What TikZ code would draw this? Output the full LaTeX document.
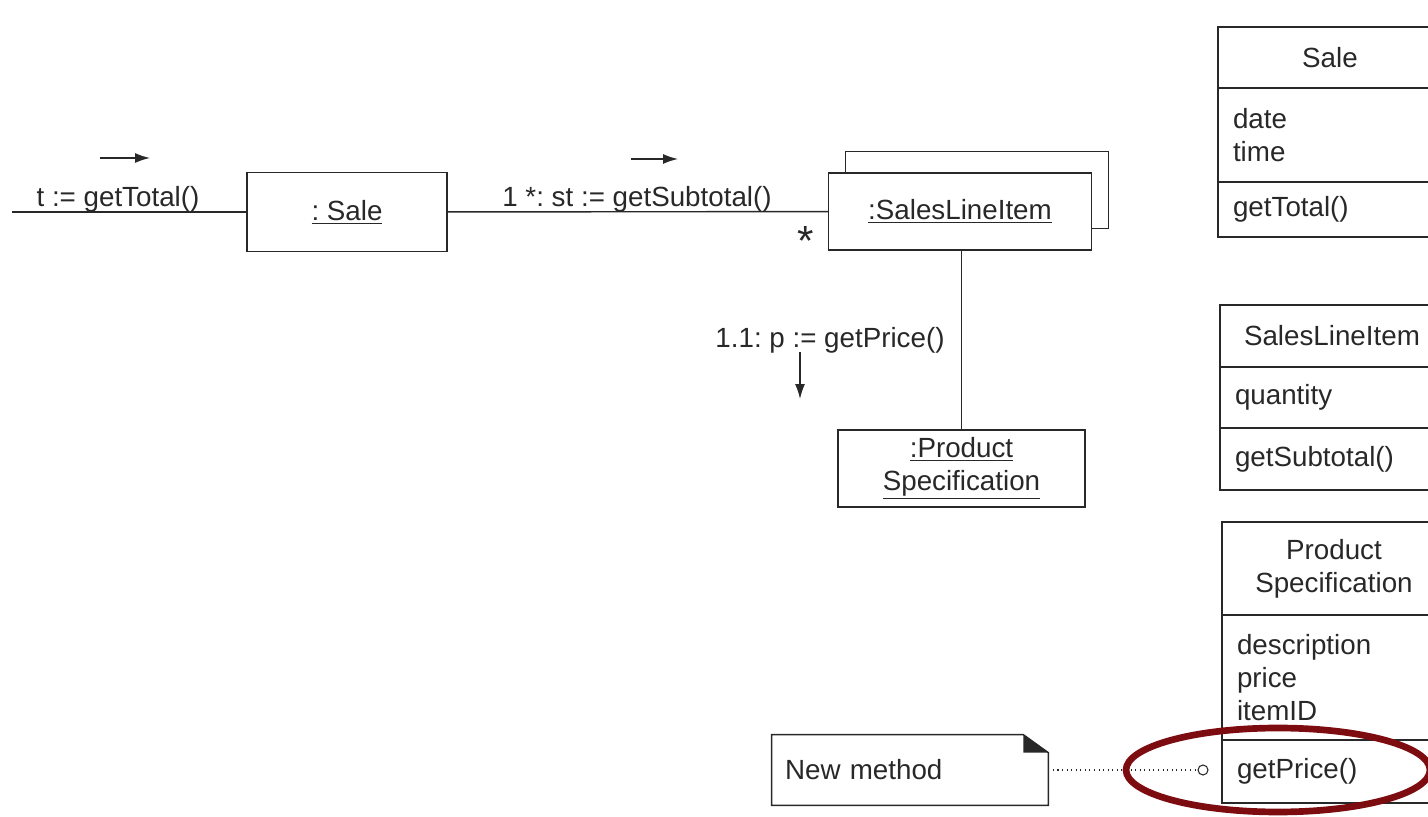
\documentclass[tikz,border=0pt]{standalone}
\usepackage{fontspec}
\setmainfont{Liberation Sans}
\usepackage{xcolor}
\usepackage{tikz}
\usetikzlibrary{arrows.meta, positioning, calc}

\definecolor{inkgray}{RGB}{40,40,40}
\definecolor{ringred}{RGB}{125,12,16}
\frenchspacing

\begin{document}
\begin{tikzpicture}[x=0.02cm, y=-0.02cm,
  every node/.style={font=\fontsize{15.8}{18.8}\selectfont, text=inkgray},
  objbox/.style={draw=inkgray, line width=0.8pt, fill=white, minimum height=1.54cm, inner sep=0pt},
  compart/.style={draw=inkgray, line width=0.8pt, outer sep=0pt, inner xsep=0.3cm, inner ysep=0pt,
    text width=3.88cm, minimum width=4.48cm, align=left},
  link/.style={draw=inkgray, line width=0.8pt},
  msgarrow/.style={draw=inkgray, line width=0.8pt, -{Latex[length=3mm,width=2mm]}}]
  \useasboundingbox (0,0) rectangle (1428,817);

  % Collaboration diagram: objects
  \node[objbox, minimum width=4cm, minimum height=1.58cm] (sale) at (347,212) {\underline{: Sale}};
  \node[objbox, minimum width=5.26cm] (sliback) at (977,190) {};
  \node[objbox, minimum width=5.26cm] (sli) at (960,211.5) {\underline{:SalesLineItem}};
  \node[objbox, minimum width=4.94cm, align=center] (ps) at (961.5,468.5)
    {\underline{:Product}\\\underline{Specification}};

  % Links
  \coordinate (caller) at (12,212);
  \draw[link] (caller) -- (sale);
  \draw[link] (sale) -- (sli);
  \draw[link] (ps.north |- sli.south) -- (ps.north);

  % Messages
  \node[anchor=base] (totalmsg) at (118,207) {t := getTotal()};
  \node[anchor=base] (subtotalmsg) at (637,207) {1 *: st := getSubtotal()};
  \node[anchor=base, font=\fontsize{24}{24}\selectfont] (mult) at (806,256) {*};
  \node[anchor=base] (pricemsg) at (830,348) {1.1: p := getPrice()};

  \coordinate (totalA) at (100,158);
  \coordinate (totalB) at (150,158);
  \coordinate (subA) at (631,159);
  \coordinate (subB) at (678,159);
  \coordinate (priceA) at (800,352);
  \coordinate (priceB) at (800,399);
  \draw[msgarrow] (totalA) -- (totalB);
  \draw[msgarrow] (subA) -- (subB);
  \draw[msgarrow] (priceA) -- (priceB);

  % Class boxes (cut by the right edge)
  \node[compart, align=center, minimum height=1.22cm, anchor=north west] (saleName) at (1218,27) {Sale};
  \node[compart, minimum height=1.88cm, below=0pt of saleName] (saleAttr) {date\\time};
  \node[compart, minimum height=1.10cm, below=0pt of saleAttr] (saleOps) {getTotal()};

  \node[compart, align=center, minimum height=1.24cm, anchor=north west] (sliName) at (1220,305) {SalesLineItem};
  \node[compart, minimum height=1.22cm, below=0pt of sliName] (sliAttr) {quantity};
  \node[compart, minimum height=1.24cm, below=0pt of sliAttr] (sliOps) {getSubtotal()};

  \node[compart, align=center, minimum height=1.86cm, anchor=north west] (psName) at (1222,522) {Product\\Specification};
  \node[compart, minimum height=2.5cm, below=0pt of psName] (psAttr) {description\\price\\itemID};
  \node[compart, minimum height=1.26cm, below=0pt of psAttr] (psOps) {getPrice()};

  % Note with folded corner
  \node[minimum width=5.52cm, minimum height=1.4cm, text width=5.0cm, align=left,
    inner xsep=0.26cm] (note) at (910,770) {New method};
  \draw[inkgray, line width=0.8pt] (note.north west) -- ([xshift=-0.5cm]note.north east)
    -- ([yshift=-0.36cm]note.north east) -- (note.south east) -- (note.south west) -- cycle;
  \fill[inkgray] ([xshift=-0.5cm]note.north east) -- ([xshift=-0.5cm,yshift=-0.36cm]note.north east)
    -- ([yshift=-0.36cm]note.north east) -- cycle;

  \node[circle, draw=inkgray, line width=0.6pt, fill=white, minimum size=0.2cm, inner sep=0pt] (dot) at (1203,770) {};
  \draw[inkgray, dotted, line width=0.6pt] (note.east) -- (dot);

  % Highlight of the new method
  \draw[ringred, line width=3.8pt] (1278,770) ellipse [x radius=3.04cm, y radius=0.84cm];
\end{tikzpicture}
\end{document}
